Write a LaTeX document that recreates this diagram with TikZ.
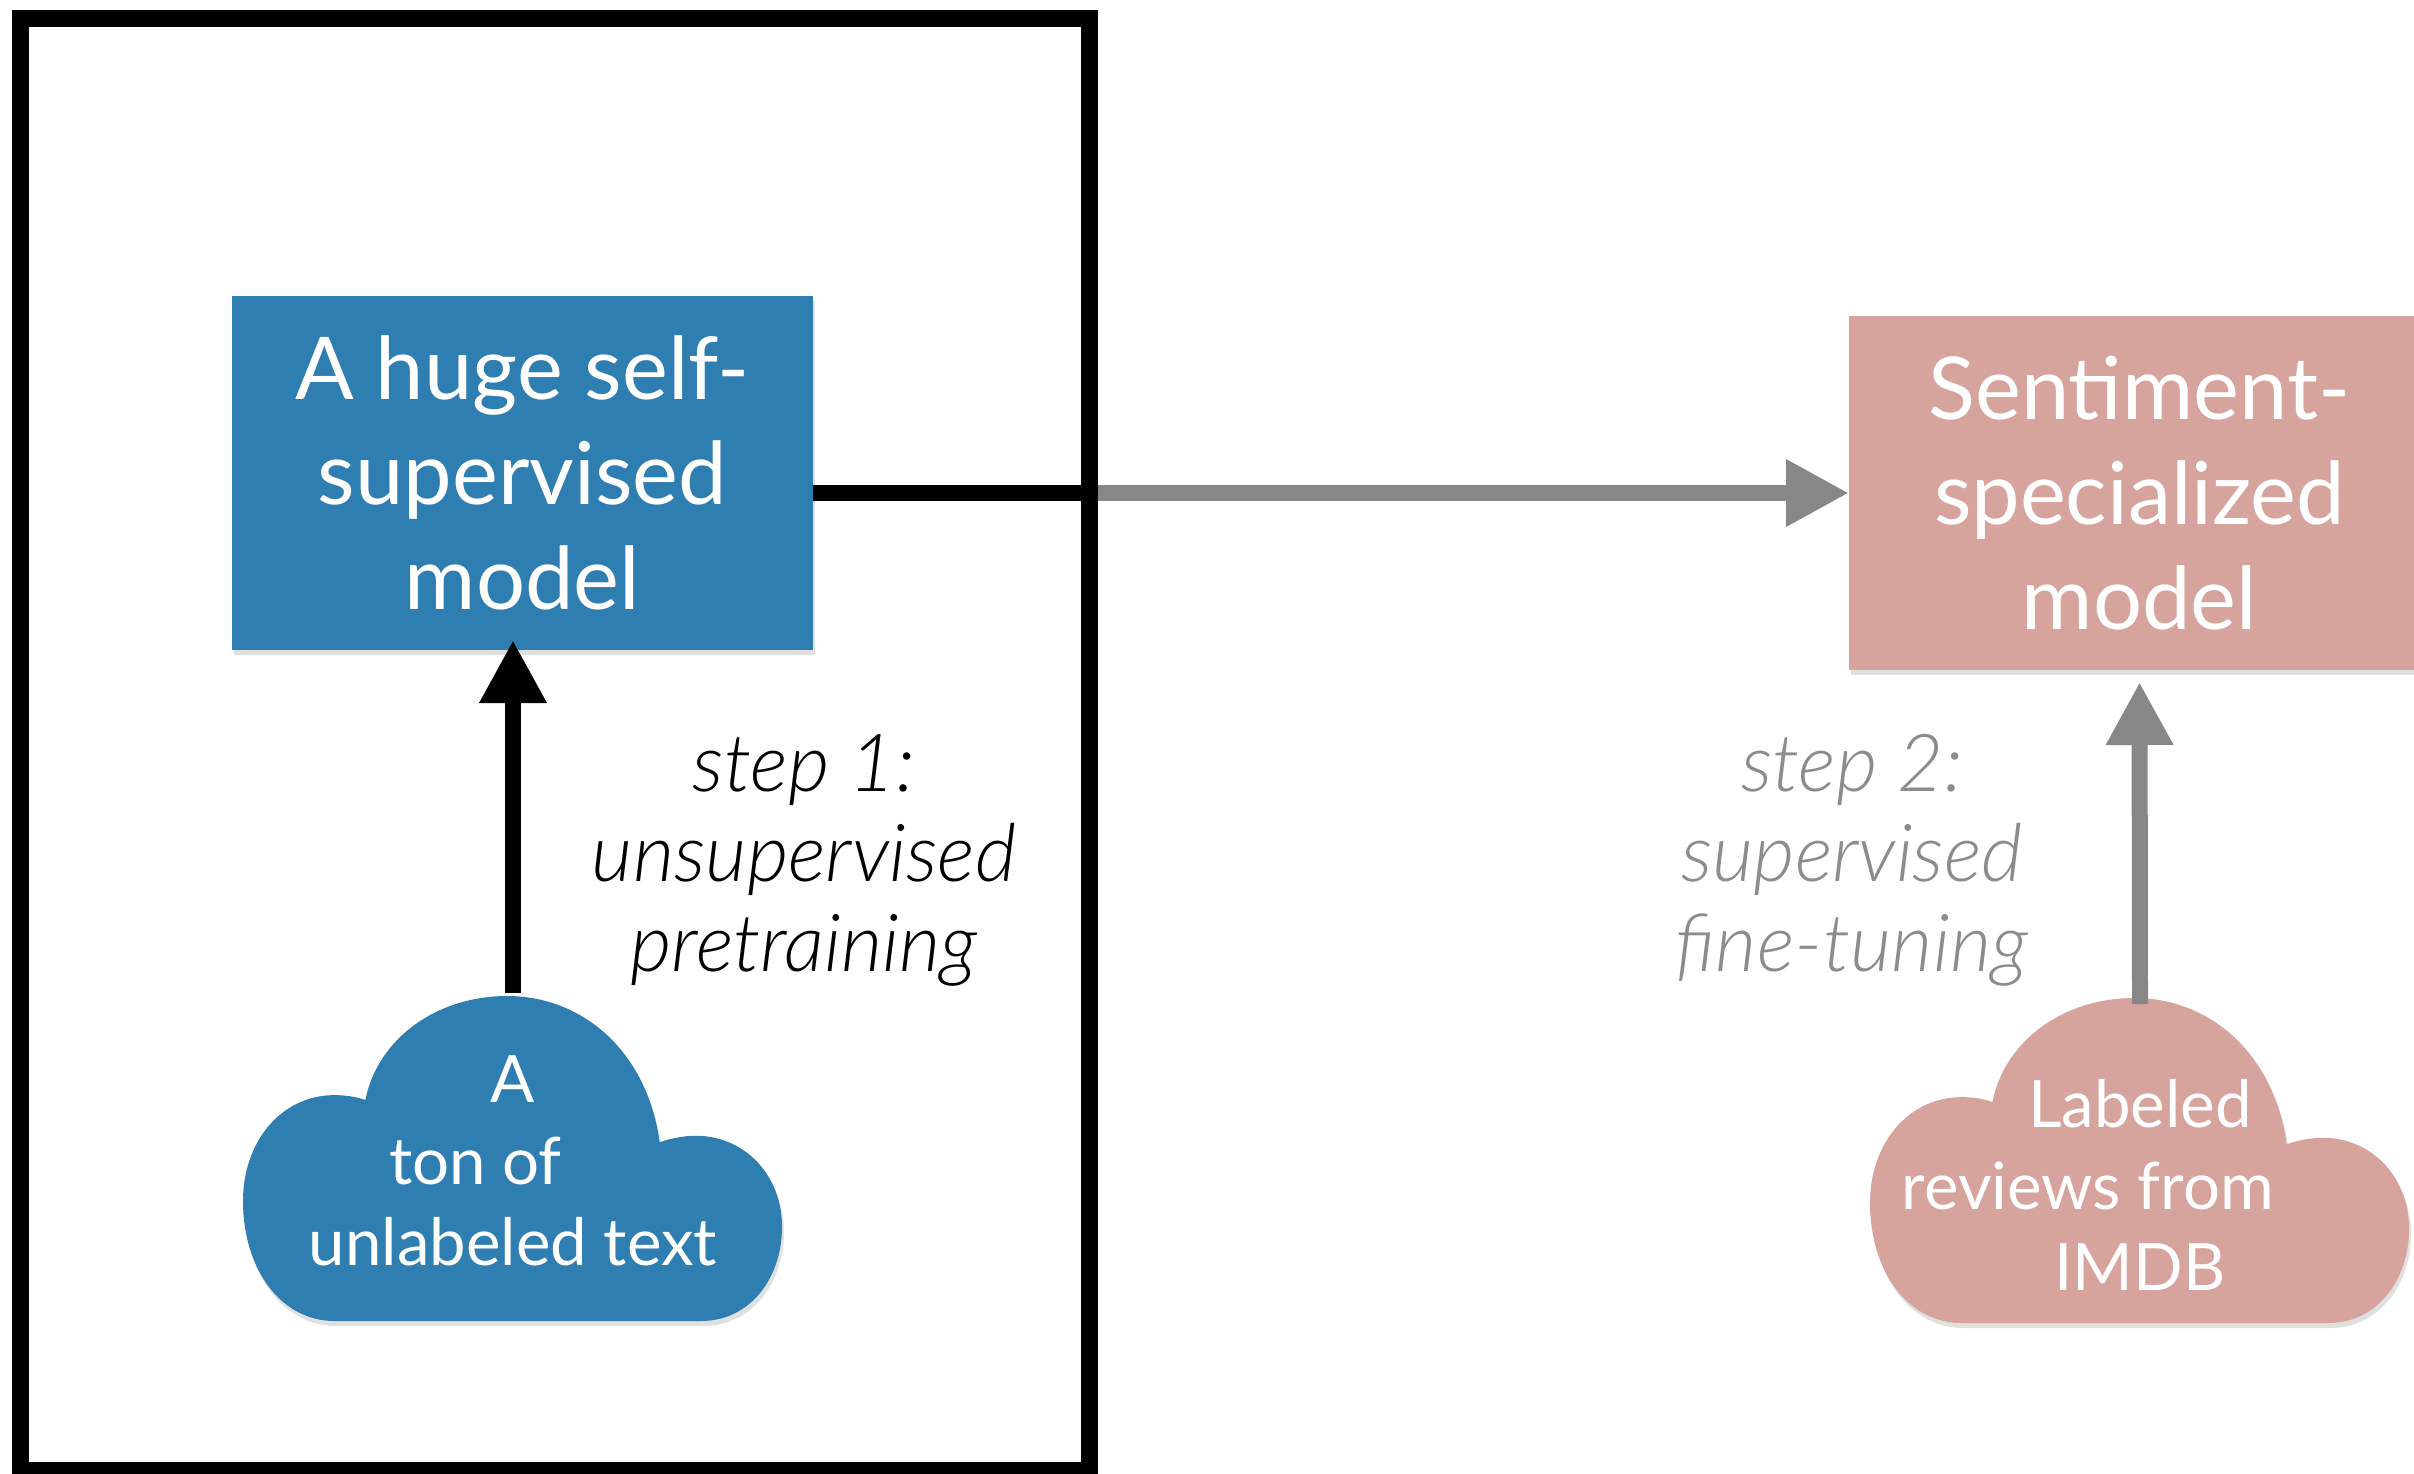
\documentclass[tikz,border=0pt]{standalone}
\usepackage{fontspec}
\setmainfont{Lato}
\newfontfamily\stepfont{Lato Light}
\usetikzlibrary{arrows.meta}
\definecolor{modelblue}{HTML}{2F7EB2}
\definecolor{modelpink}{HTML}{D6A39D}
\definecolor{arrowgray}{HTML}{878787}
\definecolor{textgray}{HTML}{8C8C8C}
\newcommand{\cloudfill}[3]{%
  \fill[#3, shift={(#1,#2)}, xscale=539, yscale=325]
    (0.17,1) -- (0.85,1)
    .. controls (0.94,1) and (1,0.87) .. (1,0.71)
    .. controls (1,0.55) and (0.93,0.43) .. (0.84,0.43)
    .. controls (0.815,0.43) and (0.79,0.44) .. (0.773,0.45)
    .. controls (0.75,0.17) and (0.63,0) .. (0.49,0)
    .. controls (0.36,0) and (0.25,0.13) .. (0.227,0.32)
    .. controls (0.21,0.31) and (0.19,0.305) .. (0.17,0.305)
    .. controls (0.07,0.305) and (0,0.45) .. (0,0.63)
    .. controls (0,0.84) and (0.07,1) .. (0.17,1) -- cycle;}
\tikzset{
  boxstyle/.style={minimum width=174.3pt, minimum height=106.2pt, inner sep=0pt,
    outer sep=0pt, text=white, font=\fontsize{26}{31.5}\selectfont, align=center},
  bluebox/.style={boxstyle, fill=modelblue},
  pinkbox/.style={boxstyle, fill=modelpink},
  shadowbox/.style={minimum width=174.3pt, minimum height=106.2pt, inner sep=0pt, fill=black!12},
  steptext/.style={font=\stepfont\itshape\fontsize{24}{27}\selectfont, align=center, inner sep=0pt},
  cloudtext/.style={text=white, font=\fontsize{19.6}{24.5}\selectfont, align=center, inner sep=0pt},
  connector/.style={line width=4.8pt, -{Triangle[length=18.9pt, width=18.9pt]}},
  blackarrow/.style={connector, black},
  grayarrow/.style={connector, arrowgray},
  blackline/.style={line width=4.8pt, black},
  framestyle/.style={line width=5.1pt, black}
}
\begin{document}
\begin{tikzpicture}[x=0.3pt, y=-0.3pt]
  \useasboundingbox (0,0) rectangle (2414,1474);
  \fill[white] (0,0) rectangle (2414,1474);

  % shadows
  \node[shadowbox] (hugeshadow) at (524.5,478) {};
  \node[shadowbox] (sentishadow) at (2141.5,498) {};
  \cloudfill{245}{1001}{black!12}
  \cloudfill{1872}{1003}{black!12}

  % boxes
  \node[bluebox] (huge) at (522.5,473) {A huge self-\\supervised\\model};
  \node[pinkbox] (senti) at (2139.5,493) {Sentiment-\\specialized\\model};

  % clouds
  \cloudfill{243}{996}{modelblue}
  \cloudfill{1870}{998}{modelpink}
  \coordinate (c1top) at (513,993);
  \coordinate (c2top) at (2140,1004);
  \node[cloudtext] (cloud1) at (513,1161) {A\\ton of\phantom{\hspace{1.15em}}\\unlabeled text};
  \node[cloudtext] (cloud2) at (2140,1185) {Labeled\\reviews from\phantom{\hspace{1.6em}}\\IMDB};

  % step labels
  \node[steptext] (step1) at (804,860) {step 1:\\unsupervised\\pretraining};
  \node[steptext, text=textgray] (step2) at (1852,860) {step 2:\\supervised\\fine-tuning};

  % connectors
  \coordinate (frameR) at (1089,493);
  \draw[grayarrow] (huge.east |- senti.west) -- (senti.west);
  \draw[blackline] (huge.east |- senti.west) -- (frameR);
  \draw[blackarrow, shorten >=-3pt] (c1top) -- (c1top |- huge.south);
  \draw[grayarrow, shorten >=3.6pt] (c2top) -- (senti.south);

  % frame
  \draw[framestyle] (20.5,18.5) rectangle (1089,1470);
\end{tikzpicture}
\end{document}
